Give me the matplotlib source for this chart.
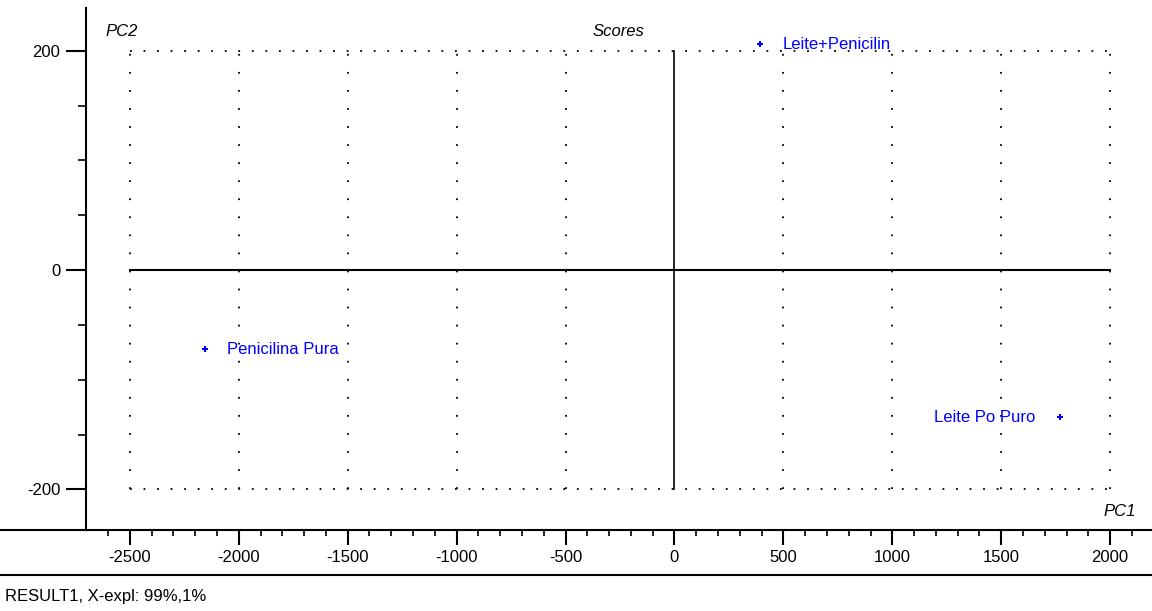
import matplotlib
matplotlib.use("Agg")
import matplotlib.pyplot as plt
from matplotlib.lines import Line2D
import numpy as np

plt.rcParams['font.family'] = ['Liberation Sans', 'DejaVu Sans']
FS = 12

samples = ["Leite+Penicilin", "Penicilina Pura", "Leite Po Puro"]
pc1 = [393, -2155, 1770]
pc2 = [206, -72, -134]
label_side = ["right", "right", "left"]

x_ticks = [-2500, -2000, -1500, -1000, -500, 0, 500, 1000, 1500, 2000]
y_ticks = [-200, 0, 200]

W, H = 1152, 611
fig = plt.figure(figsize=(W / 100, H / 100), dpi=100)
ax = fig.add_axes([86 / W, 1 - 530 / H, 1 - 86 / W, (530 - 8) / H])

ax.set_xlim(-2701, 2192)
ax.set_ylim(-237, 239)

# dotted grid
for xv in x_ticks:
    if xv == 0:
        continue
    ax.plot([xv, xv], [-200, 200], color='black', lw=1.3,
            linestyle=(0, (1, 9)), zorder=1)
for yv in [-200, 200]:
    ax.plot([-2500, 2000], [yv, yv], color='black', lw=1.3,
            linestyle=(0, (1, 6.5)), zorder=1)

# solid origin lines
ax.plot([-2500, 2000], [0, 0], color='black', lw=1.5, zorder=2)
ax.plot([0, 0], [-200, 200], color='black', lw=1.2, zorder=2)

# points
ax.plot(pc1, pc2, linestyle='none', marker='+', markersize=4, mew=1.5,
        color='blue', zorder=3)
for name, x, y, side in zip(samples, pc1, pc2, label_side):
    if side == "right":
        ax.annotate(name, (x, y), xytext=(16, 0), textcoords='offset points',
                    ha='left', va='center', color='blue', fontsize=FS)
    else:
        ax.annotate(name, (x, y), xytext=(-18, 0), textcoords='offset points',
                    ha='right', va='center', color='blue', fontsize=FS)

# spines
for s in ['top', 'right']:
    ax.spines[s].set_visible(False)
ax.spines['left'].set_linewidth(1.5)
ax.spines['bottom'].set_linewidth(1.5)

ax.set_xticks(x_ticks)
ax.set_xticklabels([str(v) for v in x_ticks])
ax.set_xticks(np.arange(-2600, 2200, 100), minor=True)
ax.set_yticks(y_ticks)
ax.set_yticklabels([str(v) for v in y_ticks])
ax.set_yticks(np.arange(-200, 201, 50), minor=True)
ax.tick_params(axis='x', which='major', length=10.5, width=1.5, direction='out',
               labelsize=FS, pad=4)
ax.tick_params(axis='x', which='minor', length=4.2, width=1.2, direction='out')
ax.tick_params(axis='y', which='major', length=14.5, width=1.5, direction='out',
               labelsize=FS, pad=4)
ax.tick_params(axis='y', which='minor', length=6, width=1.2, direction='out')

# titles / labels
fig.text(105 / W, 1 - 32 / H, "PC2", fontsize=FS, style='italic', ha='left', va='center')
fig.text(593 / W, 1 - 32 / H, "Scores", fontsize=FS, style='italic', ha='left', va='center')
fig.text(1103 / W, 1 - 511 / H, "PC1", fontsize=FS, style='italic', ha='left', va='center')
fig.text(5 / W, 1 - 596 / H, "RESULT1, X-expl: 99%,1%", fontsize=FS, ha='left', va='center')

# extension of the bottom axis line and the separator line
fig.add_artist(Line2D([0, 86 / W], [1 - 530 / H, 1 - 530 / H], color='black', lw=1.5,
                      transform=fig.transFigure))
fig.add_artist(Line2D([0, 1], [1 - 575 / H, 1 - 575 / H], color='black', lw=1.5,
                      transform=fig.transFigure))

fig.savefig("out.png", dpi=100, facecolor='white')
